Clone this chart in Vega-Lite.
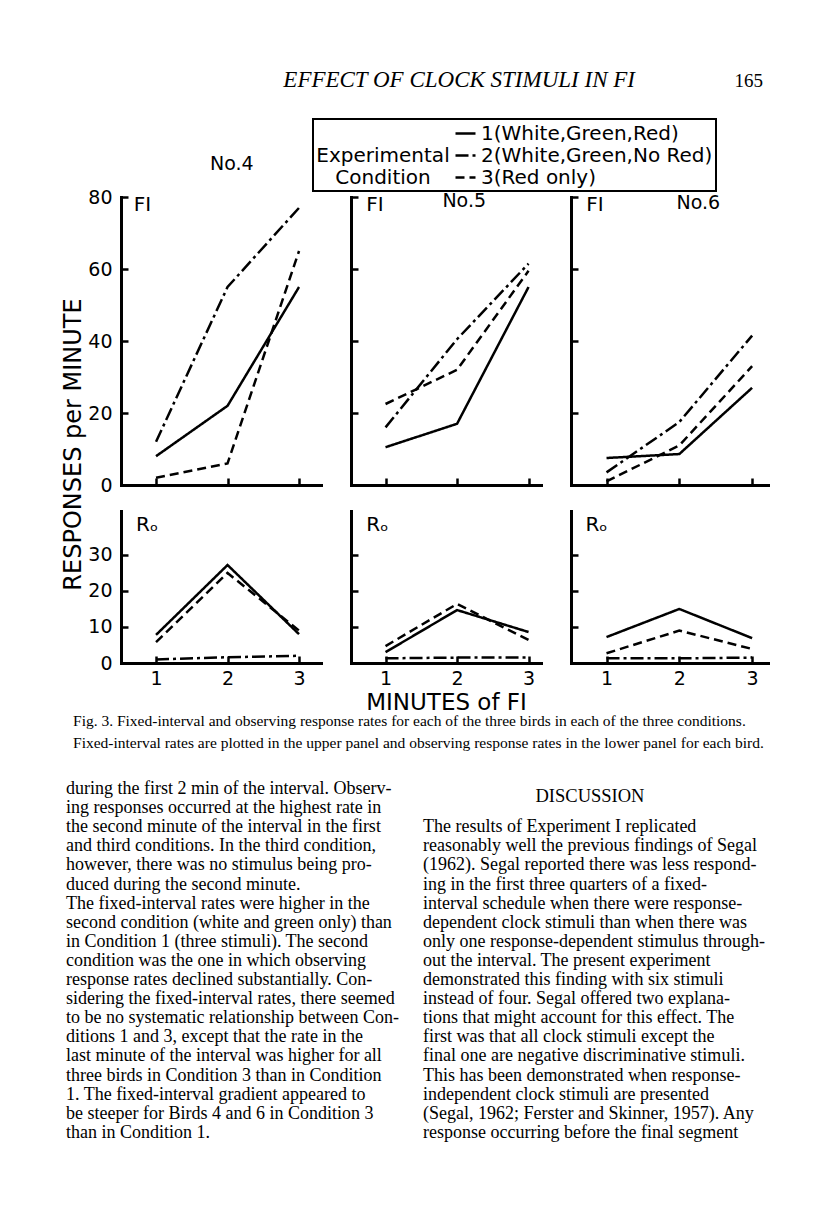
{
  "$schema": "https://vega.github.io/schema/vega-lite/v6.json",
  "background": "white",
  "padding": {"left": 58, "top": 69, "right": 10, "bottom": 10},
  "bounds": "flush",
  "columns": 4,
  "spacing": {"row": 26, "column": 30},
  "resolve": {"scale": {"x": "independent", "y": "independent"}},
  "config": {
    "view": {"stroke": null},
    "font": "DejaVu Sans",
    "axis": {"domainColor": "black", "domainWidth": 3, "domainCap": "square", "tickColor": "black", "tickWidth": 2.5, "tickSize": -7, "labelColor": "black", "labelFont": "DejaVu Sans", "labelFontSize": 19, "labelPadding": 13, "grid": false, "titleColor": "black", "titleFont": "DejaVu Sans", "titleFontWeight": "normal"},
    "text": {"color": "black"},
    "legend": {
      "titleOrient": "left", "titleAnchor": "end", "titleAlign": "center",
      "titleFont": "DejaVu Sans", "titleFontSize": 20, "titleFontWeight": "normal", "titleColor": "black", "titleLineHeight": 22, "titlePadding": -63, "titleLimit": 0,
      "labelFont": "DejaVu Sans", "labelFontSize": 20, "labelColor": "black", "labelOffset": 4, "labelLimit": 0,
      "symbolType": "stroke", "symbolStrokeColor": "black", "symbolStrokeWidth": 2.5, "symbolSize": 400,
      "rowPadding": 0, "padding": 3, "strokeColor": "black", "strokeWidth": 2
    }
  },
  "datasets": {
    "d": [
      {"bird": "4", "panel": "FI", "condition": "1(White,Green,Red)", "minute": 1, "rate": 8},
      {"bird": "4", "panel": "FI", "condition": "1(White,Green,Red)", "minute": 2, "rate": 22},
      {"bird": "4", "panel": "FI", "condition": "1(White,Green,Red)", "minute": 3, "rate": 55},
      {"bird": "4", "panel": "FI", "condition": "2(White,Green,No Red)", "minute": 1, "rate": 12},
      {"bird": "4", "panel": "FI", "condition": "2(White,Green,No Red)", "minute": 2, "rate": 55},
      {"bird": "4", "panel": "FI", "condition": "2(White,Green,No Red)", "minute": 3, "rate": 77},
      {"bird": "4", "panel": "FI", "condition": "3(Red only)", "minute": 1, "rate": 2},
      {"bird": "4", "panel": "FI", "condition": "3(Red only)", "minute": 2, "rate": 6},
      {"bird": "4", "panel": "FI", "condition": "3(Red only)", "minute": 3, "rate": 65},
      {"bird": "5", "panel": "FI", "condition": "1(White,Green,Red)", "minute": 1, "rate": 10.5},
      {"bird": "5", "panel": "FI", "condition": "1(White,Green,Red)", "minute": 2, "rate": 17},
      {"bird": "5", "panel": "FI", "condition": "1(White,Green,Red)", "minute": 3, "rate": 55},
      {"bird": "5", "panel": "FI", "condition": "2(White,Green,No Red)", "minute": 1, "rate": 16},
      {"bird": "5", "panel": "FI", "condition": "2(White,Green,No Red)", "minute": 2, "rate": 40.5},
      {"bird": "5", "panel": "FI", "condition": "2(White,Green,No Red)", "minute": 3, "rate": 61.5},
      {"bird": "5", "panel": "FI", "condition": "3(Red only)", "minute": 1, "rate": 22.5},
      {"bird": "5", "panel": "FI", "condition": "3(Red only)", "minute": 2, "rate": 32},
      {"bird": "5", "panel": "FI", "condition": "3(Red only)", "minute": 3, "rate": 59.5},
      {"bird": "6", "panel": "FI", "condition": "1(White,Green,Red)", "minute": 1, "rate": 7.5},
      {"bird": "6", "panel": "FI", "condition": "1(White,Green,Red)", "minute": 2, "rate": 8.6},
      {"bird": "6", "panel": "FI", "condition": "1(White,Green,Red)", "minute": 3, "rate": 27},
      {"bird": "6", "panel": "FI", "condition": "2(White,Green,No Red)", "minute": 1, "rate": 3.5},
      {"bird": "6", "panel": "FI", "condition": "2(White,Green,No Red)", "minute": 2, "rate": 17.5},
      {"bird": "6", "panel": "FI", "condition": "2(White,Green,No Red)", "minute": 3, "rate": 41.5},
      {"bird": "6", "panel": "FI", "condition": "3(Red only)", "minute": 1, "rate": 1},
      {"bird": "6", "panel": "FI", "condition": "3(Red only)", "minute": 2, "rate": 11},
      {"bird": "6", "panel": "FI", "condition": "3(Red only)", "minute": 3, "rate": 33},
      {"bird": "4", "panel": "Ro", "condition": "1(White,Green,Red)", "minute": 1, "rate": 7.8},
      {"bird": "4", "panel": "Ro", "condition": "1(White,Green,Red)", "minute": 2, "rate": 27.2},
      {"bird": "4", "panel": "Ro", "condition": "1(White,Green,Red)", "minute": 3, "rate": 8},
      {"bird": "4", "panel": "Ro", "condition": "2(White,Green,No Red)", "minute": 1, "rate": 1},
      {"bird": "4", "panel": "Ro", "condition": "2(White,Green,No Red)", "minute": 2, "rate": 1.6},
      {"bird": "4", "panel": "Ro", "condition": "2(White,Green,No Red)", "minute": 3, "rate": 2},
      {"bird": "4", "panel": "Ro", "condition": "3(Red only)", "minute": 1, "rate": 5.8},
      {"bird": "4", "panel": "Ro", "condition": "3(Red only)", "minute": 2, "rate": 25},
      {"bird": "4", "panel": "Ro", "condition": "3(Red only)", "minute": 3, "rate": 9},
      {"bird": "5", "panel": "Ro", "condition": "1(White,Green,Red)", "minute": 1, "rate": 3},
      {"bird": "5", "panel": "Ro", "condition": "1(White,Green,Red)", "minute": 2, "rate": 14.7},
      {"bird": "5", "panel": "Ro", "condition": "1(White,Green,Red)", "minute": 3, "rate": 8.6},
      {"bird": "5", "panel": "Ro", "condition": "2(White,Green,No Red)", "minute": 1, "rate": 1.3},
      {"bird": "5", "panel": "Ro", "condition": "2(White,Green,No Red)", "minute": 2, "rate": 1.5},
      {"bird": "5", "panel": "Ro", "condition": "2(White,Green,No Red)", "minute": 3, "rate": 1.5},
      {"bird": "5", "panel": "Ro", "condition": "3(Red only)", "minute": 1, "rate": 4.7},
      {"bird": "5", "panel": "Ro", "condition": "3(Red only)", "minute": 2, "rate": 16.4},
      {"bird": "5", "panel": "Ro", "condition": "3(Red only)", "minute": 3, "rate": 6.4},
      {"bird": "6", "panel": "Ro", "condition": "1(White,Green,Red)", "minute": 1, "rate": 7.2},
      {"bird": "6", "panel": "Ro", "condition": "1(White,Green,Red)", "minute": 2, "rate": 15},
      {"bird": "6", "panel": "Ro", "condition": "1(White,Green,Red)", "minute": 3, "rate": 6.9},
      {"bird": "6", "panel": "Ro", "condition": "2(White,Green,No Red)", "minute": 1, "rate": 1.3},
      {"bird": "6", "panel": "Ro", "condition": "2(White,Green,No Red)", "minute": 2, "rate": 1.3},
      {"bird": "6", "panel": "Ro", "condition": "2(White,Green,No Red)", "minute": 3, "rate": 1.5},
      {"bird": "6", "panel": "Ro", "condition": "3(Red only)", "minute": 1, "rate": 2.7},
      {"bird": "6", "panel": "Ro", "condition": "3(Red only)", "minute": 2, "rate": 9},
      {"bird": "6", "panel": "Ro", "condition": "3(Red only)", "minute": 3, "rate": 3.9}
    ],
    "body": [
      {"col": "L", "line": 1, "text": "during the first 2 min of the interval. Observ-"},
      {"col": "L", "line": 2, "text": "ing responses occurred at the highest rate in"},
      {"col": "L", "line": 3, "text": "the second minute of the interval in the first"},
      {"col": "L", "line": 4, "text": "and third conditions. In the third condition,"},
      {"col": "L", "line": 5, "text": "however, there was no stimulus being pro-"},
      {"col": "L", "line": 6, "text": "duced during the second minute."},
      {"col": "L", "line": 7, "text": "\u2003The fixed-interval rates were higher in the"},
      {"col": "L", "line": 8, "text": "second condition (white and green only) than"},
      {"col": "L", "line": 9, "text": "in Condition 1 (three stimuli). The second"},
      {"col": "L", "line": 10, "text": "condition was the one in which observing"},
      {"col": "L", "line": 11, "text": "response rates declined substantially. Con-"},
      {"col": "L", "line": 12, "text": "sidering the fixed-interval rates, there seemed"},
      {"col": "L", "line": 13, "text": "to be no systematic relationship between Con-"},
      {"col": "L", "line": 14, "text": "ditions 1 and 3, except that the rate in the"},
      {"col": "L", "line": 15, "text": "last minute of the interval was higher for all"},
      {"col": "L", "line": 16, "text": "three birds in Condition 3 than in Condition"},
      {"col": "L", "line": 17, "text": "1. The fixed-interval gradient appeared to"},
      {"col": "L", "line": 18, "text": "be steeper for Birds 4 and 6 in Condition 3"},
      {"col": "L", "line": 19, "text": "than in Condition 1."},
      {"col": "R", "line": 3, "text": "\u2003The results of Experiment I replicated"},
      {"col": "R", "line": 4, "text": "reasonably well the previous findings of Segal"},
      {"col": "R", "line": 5, "text": "(1962). Segal reported there was less respond-"},
      {"col": "R", "line": 6, "text": "ing in the first three quarters of a fixed-"},
      {"col": "R", "line": 7, "text": "interval schedule when there were response-"},
      {"col": "R", "line": 8, "text": "dependent clock stimuli than when there was"},
      {"col": "R", "line": 9, "text": "only one response-dependent stimulus through-"},
      {"col": "R", "line": 10, "text": "out the interval. The present experiment"},
      {"col": "R", "line": 11, "text": "demonstrated this finding with six stimuli"},
      {"col": "R", "line": 12, "text": "instead of four. Segal offered two explana-"},
      {"col": "R", "line": 13, "text": "tions that might account for this effect. The"},
      {"col": "R", "line": 14, "text": "first was that all clock stimuli except the"},
      {"col": "R", "line": 15, "text": "final one are negative discriminative stimuli."},
      {"col": "R", "line": 16, "text": "This has been demonstrated when response-"},
      {"col": "R", "line": 17, "text": "independent clock stimuli are presented"},
      {"col": "R", "line": 18, "text": "(Segal, 1962; Ferster and Skinner, 1957). Any"},
      {"col": "R", "line": 19, "text": "response occurring before the final segment"}
    ]
  },
  "concat": [
    {
      "width": 33, "height": 288,
      "layer": [
        {"data": {"values": [{"t": "EFFECT OF CLOCK STIMULI IN FI"}]},
         "mark": {"type": "text", "font": "Liberation Serif", "fontStyle": "italic", "fontSize": 23, "align": "center", "baseline": "alphabetic"},
         "encoding": {"text": {"field": "t"},
           "x": {"datum": 0.569, "type": "quantitative", "scale": {"domain": [0, 1], "range": [0, 705], "nice": false, "zero": false}, "axis": null},
           "y": {"datum": 0, "type": "quantitative", "scale": {"domain": [0, 1], "range": [-110, 0], "nice": false, "zero": false}, "axis": null}}},
        {"data": {"values": [{"t": "165"}]},
         "mark": {"type": "text", "font": "Liberation Serif", "fontSize": 19, "align": "right", "baseline": "alphabetic"},
         "encoding": {"text": {"field": "t"},
           "x": {"datum": 1.0, "type": "quantitative"},
           "y": {"datum": 0, "type": "quantitative"}}}
      ]
    },
    {
      "width": 200, "height": 288,
      "layer": [
        {"data": {"name": "d"}, "transform": [{"filter": "datum.bird == '4' && datum.panel == 'FI'"}],
         "mark": {"type": "line", "color": "black", "strokeWidth": 2.5},
         "encoding": {
           "x": {"field": "minute", "type": "quantitative", "scale": {"domain": [0.51, 3.307], "nice": false, "zero": false}, "axis": {"values": [1, 2, 3], "labels": false, "title": null}},
           "y": {"field": "rate", "type": "quantitative", "scale": {"domain": [0, 80], "nice": false}, "axis": {"values": [0, 10, 20, 30, 40, 50, 60, 70, 80], "labelPadding": 16, "labelExpr": "datum.value % 20 == 0 ? datum.label : ''", "title": "RESPONSES per MINUTE", "titleX": -48, "titleY": 247, "titleAngle": -90, "titleAlign": "center", "titleBaseline": "middle", "titleFontSize": 24}},
           "strokeDash": {"field": "condition", "type": "nominal", "scale": {"domain": ["1(White,Green,Red)", "2(White,Green,No Red)", "3(Red only)"], "range": [[1, 0], [13, 4, 3, 4], [9, 5]]}, "legend": {"title": ["Experimental", "Condition"], "orient": "none", "legendX": 255, "legendY": -78}}
         }},
        {"data": {"values": [{"label": "FI"}]}, "mark": {"type": "text", "align": "left", "baseline": "alphabetic", "fontSize": 20},
         "encoding": {"x": {"datum": 0.69}, "y": {"datum": 76}, "text": {"field": "label"}}},
        {"data": {"values": [{"label": "No.4"}]}, "mark": {"type": "text", "align": "center", "baseline": "alphabetic", "fontSize": 19},
         "encoding": {"x": {"datum": 2.06}, "y": {"datum": 87.5}, "text": {"field": "label"}}}
      ]
    },
    {
      "width": 190, "height": 288,
      "layer": [
        {"data": {"name": "d"}, "transform": [{"filter": "datum.bird == '5' && datum.panel == 'FI'"}],
         "mark": {"type": "line", "color": "black", "strokeWidth": 2.5},
         "encoding": {
           "x": {"field": "minute", "type": "quantitative", "scale": {"domain": [0.517, 3.174], "nice": false, "zero": false}, "axis": {"values": [1, 2, 3], "labels": false, "title": null}},
           "y": {"field": "rate", "type": "quantitative", "scale": {"domain": [0, 80], "nice": false}, "axis": {"values": [0, 10, 20, 30, 40, 50, 60, 70, 80], "labels": false, "title": null}},
           "strokeDash": {"field": "condition", "type": "nominal", "scale": {"domain": ["1(White,Green,Red)", "2(White,Green,No Red)", "3(Red only)"], "range": [[1, 0], [13, 4, 3, 4], [9, 5]]}, "legend": {"title": ["Experimental", "Condition"], "orient": "none", "legendX": 255, "legendY": -78}}
         }},
        {"data": {"values": [{"label": "FI"}]}, "mark": {"type": "text", "align": "left", "baseline": "alphabetic", "fontSize": 20},
         "encoding": {"x": {"datum": 0.73}, "y": {"datum": 76}, "text": {"field": "label"}}},
        {"data": {"values": [{"label": "No.5"}]}, "mark": {"type": "text", "align": "center", "baseline": "alphabetic", "fontSize": 19},
         "encoding": {"x": {"datum": 2.1}, "y": {"datum": 77.3}, "text": {"field": "label"}}}
      ]
    },
    {
      "width": 197, "height": 288,
      "layer": [
        {"data": {"name": "d"}, "transform": [{"filter": "datum.bird == '6' && datum.panel == 'FI'"}],
         "mark": {"type": "line", "color": "black", "strokeWidth": 2.5},
         "encoding": {
           "x": {"field": "minute", "type": "quantitative", "scale": {"domain": [0.512, 3.218], "nice": false, "zero": false}, "axis": {"values": [1, 2, 3], "labels": false, "title": null}},
           "y": {"field": "rate", "type": "quantitative", "scale": {"domain": [0, 80], "nice": false}, "axis": {"values": [0, 10, 20, 30, 40, 50, 60, 70, 80], "labels": false, "title": null}},
           "strokeDash": {"field": "condition", "type": "nominal", "scale": {"domain": ["1(White,Green,Red)", "2(White,Green,No Red)", "3(Red only)"], "range": [[1, 0], [13, 4, 3, 4], [9, 5]]}, "legend": {"title": ["Experimental", "Condition"], "orient": "none", "legendX": 255, "legendY": -78}}
         }},
        {"data": {"values": [{"label": "FI"}]}, "mark": {"type": "text", "align": "left", "baseline": "alphabetic", "fontSize": 20},
         "encoding": {"x": {"datum": 0.72}, "y": {"datum": 76}, "text": {"field": "label"}}},
        {"data": {"values": [{"label": "No.6"}]}, "mark": {"type": "text", "align": "center", "baseline": "alphabetic", "fontSize": 19},
         "encoding": {"x": {"datum": 2.26}, "y": {"datum": 76.7}, "text": {"field": "label"}}}
      ]
    },
    {
      "width": 33, "height": 152,
      "layer": [
        {"data": {"values": [
           {"line": 1, "text": "Fig. 3. Fixed-interval and observing response rates for each of the three birds in each of the three conditions."},
           {"line": 2, "text": "Fixed-interval rates are plotted in the upper panel and observing response rates in the lower panel for each bird."}
         ]},
         "mark": {"type": "text", "font": "Liberation Serif", "fontSize": 15.5, "align": "left", "baseline": "alphabetic"},
         "encoding": {
           "text": {"field": "text"},
           "x": {"datum": 0.0213, "type": "quantitative", "scale": {"domain": [0, 1], "range": [0, 705], "nice": false, "zero": false}, "axis": null},
           "y": {"field": "line", "type": "quantitative", "scale": {"domain": [1, 2], "range": [215, 237], "nice": false, "zero": false}, "axis": null}
         }},
        {
          "layer": [
            {"data": {"name": "body"}, "transform": [{"filter": "datum.col == 'L'"}],
             "mark": {"type": "text", "font": "Liberation Serif", "fontSize": 18, "align": "left", "baseline": "alphabetic"},
             "encoding": {
               "text": {"field": "text"},
               "x": {"datum": 0.0113, "type": "quantitative", "scale": {"domain": [0, 1], "range": [0, 705], "nice": false, "zero": false}, "axis": null},
               "y": {"field": "line", "type": "quantitative", "scale": {"domain": [1, 19], "range": [283, 626.8], "nice": false, "zero": false}, "axis": null}
             }},
            {"data": {"name": "body"}, "transform": [{"filter": "datum.col == 'R'"}],
             "mark": {"type": "text", "font": "Liberation Serif", "fontSize": 18, "align": "left", "baseline": "alphabetic"},
             "encoding": {
               "text": {"field": "text"},
               "x": {"datum": 0.5177, "type": "quantitative"},
               "y": {"field": "line", "type": "quantitative"}
             }},
            {"data": {"values": [{"text": "DISCUSSION", "line": 1.4}]},
             "mark": {"type": "text", "font": "Liberation Serif", "fontSize": 18.5, "align": "center", "baseline": "alphabetic"},
             "encoding": {
               "text": {"field": "text"},
               "x": {"datum": 0.7546, "type": "quantitative"},
               "y": {"field": "line", "type": "quantitative"}
             }}
          ]
        }
      ],
      "resolve": {"scale": {"x": "independent", "y": "independent"}}
    },
    {
      "width": 200, "height": 152,
      "layer": [
        {"data": {"name": "d"}, "transform": [{"filter": "datum.bird == '4' && datum.panel == 'Ro'"}],
         "mark": {"type": "line", "color": "black", "strokeWidth": 2.5},
         "encoding": {
           "x": {"field": "minute", "type": "quantitative", "scale": {"domain": [0.51, 3.307], "nice": false, "zero": false}, "axis": {"values": [1, 2, 3], "format": "d", "title": null}},
           "y": {"field": "rate", "type": "quantitative", "scale": {"domain": [0, 42.2], "nice": false}, "axis": {"values": [0, 10, 20, 30], "labelPadding": 16, "title": null}},
           "strokeDash": {"field": "condition", "type": "nominal", "scale": {"domain": ["1(White,Green,Red)", "2(White,Green,No Red)", "3(Red only)"], "range": [[1, 0], [13, 4, 3, 4], [9, 5]]}, "legend": {"title": ["Experimental", "Condition"], "orient": "none", "legendX": 255, "legendY": -78}}
         }},
        {"data": {"values": [{"label": "Rₒ"}]}, "mark": {"type": "text", "align": "left", "baseline": "alphabetic", "fontSize": 20},
         "encoding": {"x": {"datum": 0.72}, "y": {"datum": 36.7}, "text": {"field": "label"}}}
      ]
    },
    {
      "width": 190, "height": 152,
      "layer": [
        {"data": {"name": "d"}, "transform": [{"filter": "datum.bird == '5' && datum.panel == 'Ro'"}],
         "mark": {"type": "line", "color": "black", "strokeWidth": 2.5},
         "encoding": {
           "x": {"field": "minute", "type": "quantitative", "scale": {"domain": [0.517, 3.174], "nice": false, "zero": false}, "axis": {"values": [1, 2, 3], "format": "d", "title": "MINUTES of FI", "titleY": 39, "titleBaseline": "middle", "titleFontSize": 23}},
           "y": {"field": "rate", "type": "quantitative", "scale": {"domain": [0, 42.2], "nice": false}, "axis": {"values": [0, 10, 20, 30], "labels": false, "title": null}},
           "strokeDash": {"field": "condition", "type": "nominal", "scale": {"domain": ["1(White,Green,Red)", "2(White,Green,No Red)", "3(Red only)"], "range": [[1, 0], [13, 4, 3, 4], [9, 5]]}, "legend": {"title": ["Experimental", "Condition"], "orient": "none", "legendX": 255, "legendY": -78}}
         }},
        {"data": {"values": [{"label": "Rₒ"}]}, "mark": {"type": "text", "align": "left", "baseline": "alphabetic", "fontSize": 20},
         "encoding": {"x": {"datum": 0.73}, "y": {"datum": 36.7}, "text": {"field": "label"}}}
      ]
    },
    {
      "width": 197, "height": 152,
      "layer": [
        {"data": {"name": "d"}, "transform": [{"filter": "datum.bird == '6' && datum.panel == 'Ro'"}],
         "mark": {"type": "line", "color": "black", "strokeWidth": 2.5},
         "encoding": {
           "x": {"field": "minute", "type": "quantitative", "scale": {"domain": [0.512, 3.218], "nice": false, "zero": false}, "axis": {"values": [1, 2, 3], "format": "d", "title": null}},
           "y": {"field": "rate", "type": "quantitative", "scale": {"domain": [0, 42.2], "nice": false}, "axis": {"values": [0, 10, 20, 30], "labels": false, "title": null}},
           "strokeDash": {"field": "condition", "type": "nominal", "scale": {"domain": ["1(White,Green,Red)", "2(White,Green,No Red)", "3(Red only)"], "range": [[1, 0], [13, 4, 3, 4], [9, 5]]}, "legend": {"title": ["Experimental", "Condition"], "orient": "none", "legendX": 255, "legendY": -78}}
         }},
        {"data": {"values": [{"label": "Rₒ"}]}, "mark": {"type": "text", "align": "left", "baseline": "alphabetic", "fontSize": 20},
         "encoding": {"x": {"datum": 0.71}, "y": {"datum": 36.7}, "text": {"field": "label"}}}
      ]
    }
  ]
}
